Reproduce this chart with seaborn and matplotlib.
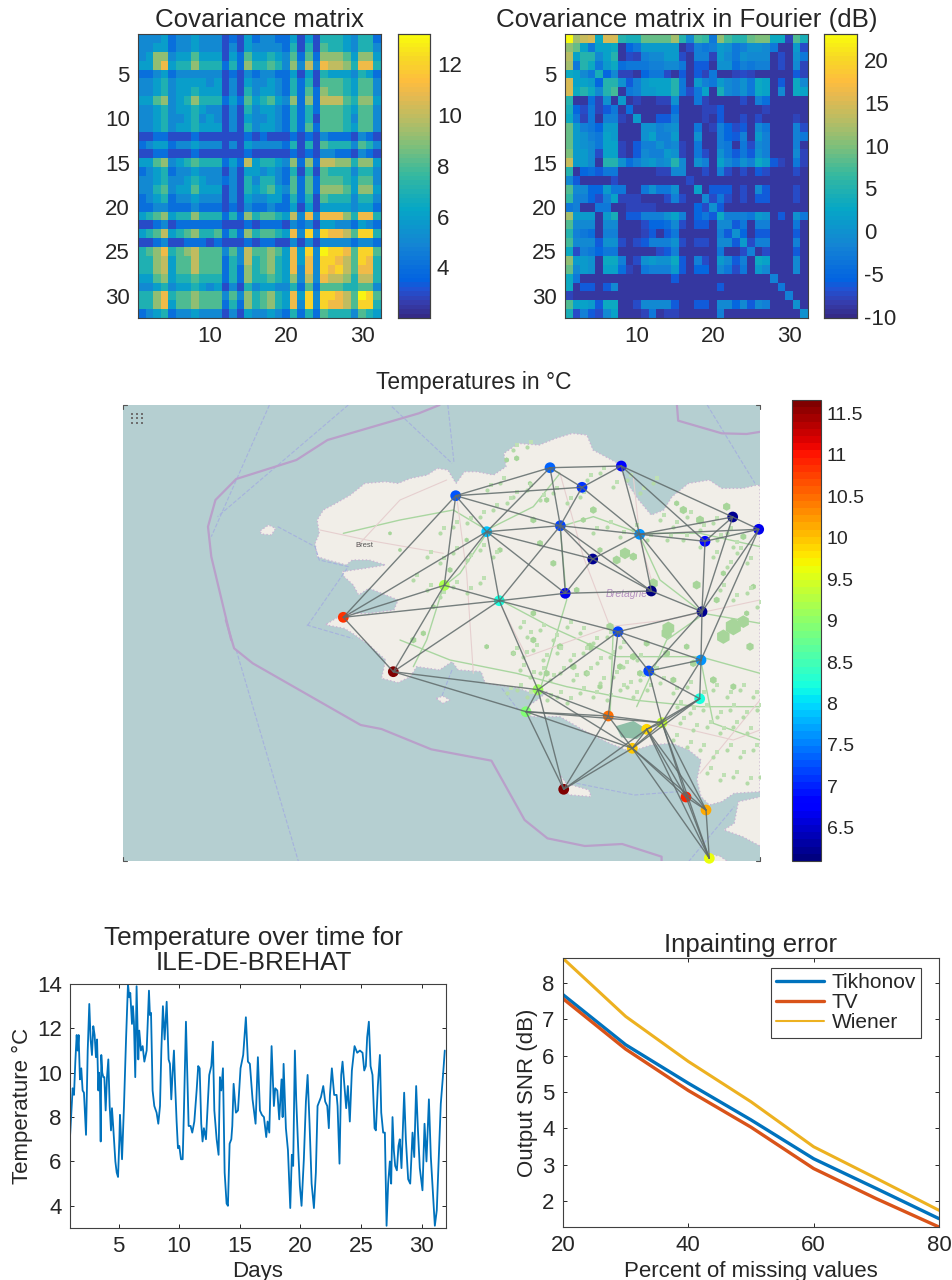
import numpy as np
import seaborn as sns
import matplotlib
matplotlib.use('Agg')
import matplotlib.pyplot as plt
from matplotlib.colors import LinearSegmentedColormap, Normalize
from matplotlib.cm import ScalarMappable

sns.set_theme(style='ticks')
plt.rcParams['font.family'] = ['Liberation Sans', 'DejaVu Sans']
plt.rcParams['axes.unicode_minus'] = False
plt.rcParams['axes.edgecolor'] = '#404040'
plt.rcParams['axes.linewidth'] = 0.8
plt.rcParams['text.color'] = '#262626'
plt.rcParams['xtick.color'] = '#262626'
plt.rcParams['ytick.color'] = '#262626'

W, H = 953, 1280

# covariance between the 32 stations
cov = [
    [5,5,5,6,4,5,5,6,5,5,5,3,4,3,6,4,5,5,4,4,6,3,6,3,7,7,7,6,5,7,7,4],
    [5,5,6,6,4,5,5,6,5,5,5,3,5,3,6,5,5,5,5,4,7,3,7,3,8,7,7,6,5,7,7,5],
    [5,6,9,9,5,6,6,8,6,6,6,3,6,4,8,6,6,7,6,5,8,4,8,4,9,9,9,8,6,9,9,6],
    [6,6,9,11,6,7,7,9,7,7,7,4,7,4,9,7,7,8,7,5,9,5,10,5,11,10,10,9,7,11,11,7],
    [4,4,5,6,4,5,5,5,5,5,5,3,4,3,5,4,5,5,4,4,6,3,6,3,7,6,6,6,5,7,6,4],
    [5,5,6,7,5,6,6,6,6,5,6,3,5,3,6,5,5,6,5,4,7,4,7,3,8,8,8,7,6,8,8,5],
    [5,5,6,7,5,6,6,7,6,6,6,3,5,3,7,5,6,6,5,4,7,4,8,4,9,8,8,7,6,8,8,5],
    [6,6,8,9,5,6,7,9,7,7,7,4,6,4,8,6,7,8,6,5,9,4,9,4,10,10,10,8,7,9,9,6],
    [5,5,6,7,5,6,6,7,6,5,5,3,5,3,7,5,6,6,5,4,7,4,7,4,8,8,8,7,6,8,8,5],
    [5,5,6,7,5,5,6,7,5,6,5,3,5,3,6,5,5,6,5,4,7,4,7,3,8,8,8,7,5,8,8,5],
    [5,5,6,7,5,6,6,7,6,6,6,3,5,3,7,5,6,6,5,4,7,4,8,4,8,8,8,7,6,8,8,5],
    [3,3,4,4,3,3,3,4,3,3,3,3,3,3,4,3,4,3,3,3,4,3,4,3,5,4,4,4,3,5,4,3],
    [4,5,6,6,4,5,5,6,5,5,5,3,5,3,6,5,5,5,5,4,7,3,7,3,8,7,7,7,5,8,7,5],
    [3,3,4,4,3,3,3,4,3,3,3,3,3,3,4,3,3,3,3,3,4,3,4,3,5,5,4,4,3,5,4,3],
    [6,6,8,9,5,6,7,8,7,7,7,4,6,4,10,6,7,7,6,5,9,4,9,4,10,10,9,9,7,9,9,6],
    [4,5,6,7,4,5,5,6,5,5,5,3,5,3,6,6,5,6,5,4,7,3,7,3,8,7,7,7,5,7,7,5],
    [5,5,6,7,5,5,6,7,6,5,5,4,5,3,7,5,7,7,5,4,8,4,8,4,8,8,8,7,6,8,8,5],
    [5,5,7,8,5,6,6,8,6,6,6,3,5,3,7,6,7,8,6,5,8,4,8,4,9,9,9,8,6,9,9,6],
    [4,5,6,7,4,5,5,6,5,5,5,3,5,3,6,5,5,6,6,4,7,4,7,3,8,7,7,7,5,7,7,5],
    [4,4,5,5,4,4,4,5,4,4,4,3,4,3,5,4,4,5,4,4,6,3,6,3,6,6,6,6,5,6,6,4],
    [6,7,8,9,6,7,7,9,7,7,7,4,7,4,9,7,8,8,7,6,10,5,11,5,11,11,11,9,7,11,11,7],
    [3,3,4,5,3,4,4,4,4,4,4,3,3,3,4,3,4,4,4,3,5,4,5,3,6,6,5,5,4,6,5,4],
    [6,7,8,10,6,7,8,9,7,7,8,4,7,4,9,7,8,8,7,6,11,5,12,5,12,11,11,10,8,12,12,7],
    [3,3,4,5,3,3,4,4,4,3,4,3,3,3,4,3,4,4,3,3,5,3,5,3,5,5,5,5,4,5,5,4],
    [7,8,9,11,7,8,9,10,8,8,8,5,8,5,10,8,8,9,8,6,11,6,12,5,13,12,12,11,8,12,12,8],
    [7,7,9,10,6,8,8,10,8,8,8,4,7,5,10,7,8,9,7,6,11,6,11,5,12,12,11,10,8,12,11,7],
    [7,7,9,10,6,8,8,10,8,8,8,4,7,4,9,7,8,9,7,6,11,5,11,5,12,11,12,10,8,11,11,7],
    [6,6,8,9,6,7,7,8,7,7,7,4,7,4,9,7,7,8,7,6,9,5,10,5,11,10,10,9,7,10,10,7],
    [5,5,6,7,5,6,6,7,6,5,6,3,5,3,7,5,6,6,5,5,7,4,8,4,8,8,8,7,7,8,8,5],
    [7,7,9,11,7,8,8,9,8,8,8,5,8,5,9,7,8,9,7,6,11,6,12,5,12,12,11,10,8,13,12,8],
    [7,7,9,11,6,8,8,9,8,8,8,4,7,4,9,7,8,9,7,6,11,5,12,5,12,11,11,10,8,12,12,7],
    [4,5,6,7,4,5,5,6,5,5,5,3,5,3,6,5,5,6,5,4,7,4,7,4,8,7,7,7,5,8,7,6],
]

# the same matrix in the graph Fourier basis, dB
cov_fourier = [
    [23,12,14,15,3,15,15,5,4,4,9,9,9,9,12,5,-1,7,6,-3,11,7,5,5,9,10,10,3,3,-8,8,4],
    [11,9,2,-3,2,2,3,-9,-5,-3,1,1,1,1,1,-9,-7,-2,-3,-2,1,0,-3,-2,0,0,-1,-3,-9,-9,1,-7],
    [13,2,5,5,-1,2,5,-9,-7,-8,-2,-1,-1,1,1,-7,-9,-2,-2,-8,1,-1,-3,0,-1,-1,-1,-9,-7,-9,0,-3],
    [12,-3,5,3,-3,1,3,-4,-3,-3,-3,-2,-2,-1,-1,-3,-9,-6,-6,-9,0,0,-4,-2,-3,-2,-2,-9,-7,-9,-1,-8],
    [3,2,-1,-3,4,-5,-1,-8,-8,-9,-5,-3,-3,-7,-9,-6,-9,-6,-8,-3,-9,-9,-8,-7,-8,-9,-9,-9,-9,-9,-6,-8],
    [15,2,2,1,-5,5,5,0,-6,-2,1,2,2,2,5,-3,-9,1,-2,-3,1,-1,-2,0,-3,3,2,-9,-6,-9,3,-1],
    [15,3,5,3,-1,5,7,-9,-3,-2,1,1,2,2,5,-3,-7,-3,2,-9,4,-1,-2,0,-3,3,2,-9,-1,-9,3,2],
    [5,-9,-9,-4,-8,0,-9,1,-9,-8,-9,-9,-8,-8,0,-9,-9,-3,-8,-9,-9,-9,-9,-7,-9,-2,-4,-9,-9,-9,-9,-9],
    [4,-5,-7,-3,-8,-6,-3,-9,-4,-9,-9,-9,-9,-9,-4,-9,-9,-9,-8,-8,-6,-9,-9,-9,-9,-9,-8,-9,-9,-9,-9,-9],
    [3,-3,-8,-3,-9,-2,-2,-8,-9,1,-9,-9,-6,-6,-2,-9,-9,-9,-8,-9,-6,-9,-9,-7,-9,-7,-9,-9,-9,-9,-8,-9],
    [9,1,-2,-3,-5,1,1,-9,-9,-9,0,0,-2,-1,0,-9,-9,-3,-9,-8,-2,-5,-7,-6,-9,-1,-3,-9,-9,-9,-2,-7],
    [9,1,0,-2,-3,2,1,-9,-9,-9,0,2,-2,-2,1,-9,-9,0,-9,-9,-2,-5,-6,-2,-9,1,-2,-9,-9,-9,-2,-3],
    [9,1,0,-1,-3,2,2,-8,-9,-6,-2,-2,0,-2,-1,-8,-9,-3,-9,-9,-2,-3,-9,-3,-7,-1,-2,-9,-9,-9,-2,-9],
    [10,1,1,-1,-7,2,2,-8,-9,-6,-1,-2,-2,1,0,-8,-9,-3,-7,-9,0,-3,-6,-3,-6,0,-2,-9,-9,-9,-1,-8],
    [14,1,1,-1,-9,5,5,0,-4,-2,0,1,-1,0,5,-1,-9,0,-2,-9,2,-1,-3,0,-2,3,1,-6,-8,-9,-3,-8],
    [5,-9,-5,-4,-6,-3,-3,-9,-9,-9,-9,-9,-8,-8,-1,-1,-9,-9,-7,-9,-2,-7,-9,-7,-9,-6,-7,-9,-9,-9,-7,-9],
    [-1,-6,-9,-9,-9,-9,-7,-9,-9,-9,-9,-9,-9,-9,-9,-9,-7,-9,-9,-9,-9,-9,-9,-9,-9,-9,-9,-9,-9,-9,-9,-9],
    [8,-1,-1,-5,-5,1,-3,-3,-9,-9,-3,0,-3,-3,0,-9,-9,2,-9,-6,-6,-6,-9,-7,-9,-1,-6,-9,-9,-9,-7,-9],
    [6,-2,-2,-5,-7,-2,2,-8,-8,-8,-9,-9,-9,-7,-2,-7,-9,-9,-1,-7,-3,-7,-9,-7,-9,-6,-6,-9,-9,-9,-7,-9],
    [-3,-2,-9,-9,-3,-3,-9,-9,-8,-8,-8,-8,-9,-9,-9,-9,-9,-5,-7,0,-6,-9,-9,-9,-9,-9,-9,-9,-9,-9,-9,-9],
    [12,1,1,1,-9,1,4,-9,-6,-6,-2,-2,-2,0,2,-2,-9,-5,-3,-6,3,-2,-2,-2,-3,1,0,-9,-6,-9,0,-3],
    [8,-1,-1,-1,-9,-1,-1,-9,-9,-9,-7,-5,-5,-4,-1,-7,-9,-6,-6,-9,-1,-1,-6,-3,-9,-2,-2,-9,-9,-9,-3,-9],
    [5,-2,-3,-4,-9,-2,-2,-9,-9,-9,-8,-6,-9,-6,-3,-9,-9,-9,-9,-9,-2,-6,0,-5,-9,-6,-6,-9,-9,-9,-6,-9],
    [7,-1,-1,-1,-6,0,0,-7,-9,-7,-6,-2,-2,-2,0,-7,-9,-7,-7,-9,-1,-1,-6,1,-7,-2,-2,-9,-9,-9,-2,-9],
    [3,-7,-2,-3,-5,-3,-3,-9,-9,-9,-9,-9,-7,-6,-2,-9,-9,-9,-9,-9,-3,-9,-9,-7,-2,-9,-7,-9,-9,-9,-6,-9],
    [11,1,1,0,-9,3,3,-2,-9,-7,0,1,0,0,3,-6,-9,-2,-7,-9,1,-1,-6,-2,-9,3,2,-9,-9,-9,-1,-9],
    [9,-1,1,0,-9,2,2,-4,-8,-9,-3,-2,-2,-2,1,-6,-9,-5,-5,-9,-1,-3,-7,-3,-9,1,-1,-9,-9,-9,-1,-9],
    [3,-3,-9,-9,-9,-9,-9,-9,-9,-9,-9,-9,-9,-9,-6,-9,-9,-9,-9,-9,-9,-9,-9,-9,-9,-9,-9,-2,-9,-9,-9,-9],
    [3,-9,-6,-6,-9,-6,-1,-9,-9,-9,-9,-9,-9,-9,-9,-9,-9,-9,-9,-9,-6,-9,-9,-9,-9,-9,-9,-9,-3,-9,-9,-9],
    [-8,-9,-9,-9,-9,-9,-9,-9,-9,-9,-9,-9,-9,-9,-9,-9,-9,-9,-9,-9,-9,-9,-9,-9,-9,-9,-9,-9,-9,-2,-9,-9],
    [8,2,2,1,-6,3,3,-9,-9,-7,-1,-1,-1,-1,-6,-9,-9,-6,-6,-9,-1,-1,-5,-1,-6,-1,-2,-9,-9,-9,0,-9],
    [4,-7,-2,-6,-7,-1,2,-9,-9,-9,-8,-3,-9,-8,-8,-9,-9,-9,-9,-9,-2,-9,-9,-9,-9,-9,-9,-9,-9,-9,-9,0],
]

# stations: position on the map picture, mean temperature
station_x = [455.7,550,621.3,582,486.7,560.3,639.7,592.7,732.7,758.7,705,444.3,499.3,565.3,651.3,702,
             343.3,618,701,648.7,393.3,538,699.7,526,608.3,662,646.7,632.3,563.7,686,706,709.3]
station_y = [495.7,467.7,466,487.3,531.7,525.7,534.3,559,517,529.3,541.3,585.3,600.7,593.3,591,611.7,
             617.3,631.7,660,671,671.7,689.7,698.7,711.7,716,722.7,729.3,748.3,789.3,797,810,858.3]
station_temp = [7.3,7.4,6.8,7.1,7.9,7.2,7.6,6.2,6.2,6.7,6.8,9.2,8.2,6.7,6.1,6.2,
                10.8,7.2,7.6,7.2,11.6,9.1,8.2,8.9,10.5,9.4,9.9,10.0,11.6,10.9,10.1,9.6]
edges = [(0,1),(0,3),(0,4),(0,5),(0,11),(0,16),(1,2),(1,3),(1,4),(1,5),(2,3),(2,6),(2,8),(2,10),
         (3,5),(3,6),(4,5),(4,7),(4,11),(4,12),(4,13),(4,16),(5,6),(5,7),(5,12),(5,13),(5,14),
         (6,7),(6,8),(6,9),(6,10),(6,14),(6,15),(7,13),(7,14),(8,9),(8,10),(8,15),(9,10),(9,15),(9,18),
         (10,15),(11,12),(11,16),(11,20),(12,13),(12,16),(12,17),(12,20),(12,21),(13,14),(14,15),
         (15,17),(15,18),(15,19),(16,20),(17,18),(17,19),(17,21),(17,24),(18,19),(18,22),(18,25),
         (19,22),(19,25),(20,21),(20,23),(21,23),(21,24),(21,27),(21,28),(22,25),(22,26),(22,27),
         (23,24),(23,25),(23,27),(23,28),(24,25),(24,27),(24,28),(25,26),(25,27),(25,29),(25,30),(25,31),
         (26,27),(26,28),(26,29),(26,30),(26,31),(27,28),(27,29),(27,30),(27,31),(29,30),(29,31),(30,31)]

# background map, traced by hand off the crops
north_coast = [(498,672),(520,655),(545,640),(600,640),(660,630),(670,600),(640,585),(600,565),(575,585),
               (562,555),(540,530),(535,515),(590,505),(640,495),(600,480),(560,480),(545,495),(500,480),
               (475,470),(470,430),(480,400),(475,360),(490,330),(520,310),(555,285),(590,250),(640,245),
               (670,250),(700,235),(740,225),(765,205),(790,210),(810,250),(830,215),(860,215),(900,225),
               (930,200),(925,160),(960,130),(1010,135),(1050,115),(1090,100),(1125,105),(1140,150),
               (1170,170),(1200,190),(1220,245),(1250,300),(1280,345),(1310,330),(1330,290),(1370,250),
               (1420,240),(1450,265),(1500,265),(1535,255),(1545,258)]
south_coast = [(497,15),(540,25),(560,40),(600,75),(640,120),(630,175),(670,188),(700,170),(715,140),
               (770,150),(800,125),(815,150),(870,155),(880,190),(960,205),(1005,225),(1030,215),(1005,240),
               (975,265),(970,285),(1000,290),(1060,290),(1130,340),(1180,370),(1230,395),(1280,375),
               (1330,370),(1370,390),(1400,420),(1390,480),(1400,530),(1420,555),(1450,545),(1480,520),(1545,515)]
south_land = [(1545,530),(1490,545),(1480,610),(1455,630),(1500,650),(1545,680)]
belle_ile = [(1062,468),(1075,490),(1130,510),(1135,530),(1085,525),(1060,510)]
noirmoutier = [(1412,725),(1420,703),(1445,708),(1465,725)]
groix = [(762,235),(778,228),(795,240),(778,250)]
ouessant = [(338,392),(358,375),(375,385),(365,405),(340,402)]
border_1 = [(770,15),(720,40),(500,120),(425,180),(280,237),(230,300),(212,380),(220,470),(268,720)]
border_2 = [(255,0),(275,85),(320,130),(580,315),(630,327),(750,388),(895,422),(975,600),(1030,655),
            (1120,678),(1210,672),(1305,710),(1305,725)]
border_3 = [(1342,15),(1345,62),(1450,100),(1510,102),(1545,95)]
dash_top = [[(360,15),(220,410)],[(550,15),(235,350)],[(655,20),(800,190)],[(790,15),(805,190)],
            [(380,380),(470,440),(480,480),(550,500),(450,680)],[(1415,15),(1530,250)]]
dash_bottom = [[(280,90),(430,725)],[(1100,490),(1240,525),(1345,515)],[(1370,725),(1480,560)],
               [(800,150),(775,230)],[(920,205),(960,270)],[(450,15),(560,55)]]
forest_x = [1105,1100,1300,1270,1330,1200,1150,975,950,1190,1060,650,700,880,850,740,620,760,830,900,
            1000,1280,1330,1130,690,720,600,500,450,400,370,340,300,270,640,700,560,860,780,930,1040,
            1160,1240,1300,1350,1120,1180,1250,1340,1270,1360,870,960,820,740,1100,1000,900,1020,700]
forest_y = [565,580,560,590,545,240,210,340,360,435,430,55,240,210,240,180,60,370,450,330,
            350,200,290,190,130,310,330,300,390,500,580,600,330,280,640,600,620,700,620,560,610,
            620,720,740,620,720,670,480,520,400,440,620,680,680,700,640,650,740,700,520]
forest_s = [160,120,260,180,140,70,60,120,70,70,90,30,40,50,30,30,25,40,35,30,
            60,60,40,30,20,40,30,20,30,25,30,40,15,15,30,40,25,40,45,60,40,
            35,50,40,60,40,50,40,30,30,30,60,40,45,40,50,50,30,40,35]
speck_x = [660,680,720,760,800,840,880,920,960,640,670,700,730,770,810,850,890,930,970,1010,
           660,690,720,750,780,820,860,900,940,980,1020,1060,620,650,680,710,740,770,800,840,
           880,920,960,1000,1040,1080,1120,1160,1200,1240,1280,1320,1360,1130,1170,1210,1250,1290,1330,1370,
           1140,1180,1220,1260,1300,1340,1120,1160,1200,1240,1280,1320,1360,1220,1260,1300,1340,1380,420,460,
           500,540,580,620,380,420,460,500,540,580,340,380,420,460,500,540,860,900,940,980,
           1020,1060,1100,1150,1200,1250,1300,560,600,640,680,720,760,800,840,880,920,960,1000,1040,
           640,680,1080,1120,1160,1200,1240,1280,1240,1280,1310,1340,1260,1300,1340,1370]
speck_y = [560,590,570,600,560,580,610,590,620,640,650,630,660,640,660,640,670,650,680,660,
           690,710,700,720,700,720,700,730,710,740,720,700,760,750,770,760,780,770,790,760,
           770,780,750,770,750,730,760,740,770,750,770,750,770,800,820,810,830,810,830,810,
           850,870,860,880,860,880,900,920,930,950,930,950,930,1000,1020,1010,1030,1010,280,260,
           250,230,210,190,350,370,340,360,330,350,420,450,470,440,460,430,120,100,140,120,
           160,130,300,300,320,300,320,150,130,170,150,180,160,190,170,280,260,290,270,300,
           30,20,240,260,230,270,250,280,350,380,340,370,450,480,460,500]
green_roads = [[(130,280),(300,240),(460,210),(560,270)],[(560,270),(700,200),(780,100),(750,85)],
               [(780,260),(880,230),(1020,280),(1200,280),(1380,320)],[(1020,290),(1080,420),(1210,520),(1380,550)],
               [(300,600),(450,660),(650,700),(800,740),(1000,780),(1200,800),(1380,800)],
               [(600,480),(750,560),(950,650),(1200,650),(1380,700)],[(430,440),(380,600),(340,680)],
               [(940,560),(930,830)],[(1200,650),(1240,850),(1380,900)],[(560,280),(480,400),(430,440)],
               [(780,260),(800,480),(720,750)],[(1200,530),(1100,600),(1010,800)]]
pink_roads = [[(170,320),(300,180),(440,120)],[(470,170),(500,400),(520,700)],[(780,100),(850,350),(930,560)],
              [(930,560),(1100,540),(1380,480)],[(1000,110),(1020,300),(1060,440)],[(1380,780),(1200,1000)],
              [(60,270),(200,300),(430,340)],[(1090,850),(1300,900),(1380,870)],[(600,490),(680,650),(930,560)]]

# temperature at ILE-DE-BREHAT
days = [1.00,1.14,1.22,1.33,1.44,1.55,1.63,1.71,1.82,1.93,2.04,2.15,2.32,2.46,2.59,2.70,2.81,2.92,3.03,3.14,
        3.23,3.34,3.39,3.47,3.53,3.58,3.66,3.75,3.83,3.94,4.05,4.16,4.27,4.38,4.46,4.57,4.74,4.85,4.96,5.07,
        5.12,5.29,5.45,5.62,5.78,5.89,5.97,6.11,6.19,6.27,6.38,6.49,6.63,6.71,6.85,6.99,7.13,7.32,7.51,7.59,
        7.68,7.81,7.95,8.14,8.28,8.42,8.53,8.66,8.80,8.97,9.13,9.24,9.35,9.46,9.57,9.65,9.79,9.90,10.01,10.15,
        10.29,10.39,10.56,10.67,10.78,10.94,11.08,11.25,11.44,11.57,11.69,11.82,11.93,12.04,12.21,12.32,12.48,12.65,12.78,12.90,
        13.09,13.25,13.36,13.47,13.61,13.75,13.91,14.02,14.16,14.30,14.38,14.49,14.68,14.85,15.06,15.28,15.50,15.67,15.83,16.05,
        16.30,16.49,16.66,16.82,16.99,17.18,17.29,17.43,17.62,17.81,17.92,18.09,18.25,18.44,18.53,18.61,18.80,18.97,19.16,19.29,
        19.40,19.54,19.65,19.82,19.95,20.09,20.28,20.45,20.59,20.75,20.92,21.11,21.27,21.41,21.55,21.69,21.88,22.04,22.21,22.34,
        22.43,22.59,22.78,22.98,23.06,23.22,23.36,23.47,23.61,23.77,23.91,24.07,24.24,24.46,24.68,24.90,25.12,25.26,25.39,25.50,
        25.64,25.78,25.94,26.11,26.22,26.38,26.55,26.66,26.82,26.96,27.10,27.23,27.37,27.48,27.59,27.70,27.81,27.95,28.08,28.19,
        28.33,28.55,28.69,28.88,29.05,29.24,29.38,29.54,29.68,29.84,30.06,30.23,30.39,30.59,30.75,30.92,31.08,31.24,31.41,31.57,31.77,31.90]
temps = [7.1,8.5,9.3,9,10.5,11.7,11,11.7,9.7,10.2,9.2,9.1,7.2,11,13.1,11.5,10.8,12.1,11.7,10.7,
         11.5,9.2,10,9.3,6.9,10.8,10,9.8,9.8,8.3,9.8,10.6,8.5,7.4,8.4,7.5,6,5.5,5.3,7,
         8.1,6.1,8.5,11.5,14,13.4,13.6,12.2,13,12.3,9.8,13.9,10.6,11.9,11,11.2,10.5,11,13.7,12.6,
         12.7,9.2,8.5,8.2,7.7,8.5,11,13,11.5,13.2,10.6,10.4,8.8,10,11,9.7,7.8,6.6,6.7,6.1,
         6.1,8.2,12.3,10,7.6,7.6,7.3,7.8,9.2,10.3,10.2,7.7,6.9,7.5,7,8.2,9.9,10.3,11.4,8.3,
         7,6.3,9.8,9.2,10.2,5.5,4.1,4,6.8,7,7.6,9.5,8.2,8.3,10.2,10.8,12.5,10.5,10.4,8.8,
         7.7,10.7,8.3,8.1,8,7.1,7.8,7.3,11.2,8.5,9.3,9.2,7.9,9.7,8,10.4,7.5,6.5,3.9,6.3,
         5.8,11,8.8,6.5,4.9,4,6.1,8.7,9.9,7.7,5,3.9,5.5,8.5,8.7,8.9,9.4,8.7,8.5,7.5,
         9,10.2,9,9,8.5,5.9,9.9,10.5,9.5,8.4,9.4,7.8,10.1,11.2,10.9,11,10.9,10.1,10.3,11.6,
         12.3,10.3,9.9,7.5,7.4,9.4,10.8,8.2,7.3,7.3,3.1,5,6,5,8,6.5,5.8,5.6,6.7,7,
         5.7,9.1,7,5.2,5,7.3,6.2,9.4,7.5,5.7,4.7,7.7,6,8.8,6.2,4.6,3.1,3.8,6.3,8.6,10,11]

# inpainting results
missing = [20,30,40,50,60,70,80]
snr_tikhonov = [7.68,6.30,5.24,4.23,3.16,2.34,1.51]
snr_tv = [7.57,6.18,5.04,4.03,2.89,2.06,1.28]
snr_wiener = [8.68,7.08,5.84,4.73,3.49,2.62,1.74]

parula_nodes = [(0,(.2081,.1663,.5292)),(3/63,(.2081,.2386,.6771)),(6/63,(.1253,.3242,.8303)),(8/63,(.0117,.3875,.8820)),
                (16/63,(.0793,.5200,.8312)),(24/63,(.0228,.6535,.7768)),(32/63,(.2178,.7250,.6193)),(38/63,(.4871,.7491,.4840)),
                (44/63,(.7184,.7411,.3905)),(50/63,(.9139,.7258,.3063)),(53/63,(.9938,.7455,.2403)),(58/63,(.9697,.8481,.1475)),
                (1,(.9763,.9831,.0538))]
parula = LinearSegmentedColormap.from_list('parula', parula_nodes, N=64)
jet = plt.get_cmap('jet', 64)


def place(x0, y0, x1, y1):
    return fig.add_axes([x0/W, 1-y1/H, (x1-x0)/W, (y1-y0)/H])


def crop(points, top):
    # crop units -> picture pixels
    pts = np.array(points, dtype=float)
    return 120 + pts[:, 0]*0.415, top + pts[:, 1]/3


def crop3(points):
    pts = np.array(points, dtype=float)
    return 300 + pts[:, 0]/3, 440 + pts[:, 1]/3


def matlab_box(ax):
    ax.tick_params(direction='in', length=3, width=0.7, top=True, right=True, labelsize=16)
    ax.tick_params(axis='x', pad=6)
    ax.tick_params(axis='y', pad=6)
    for s in ax.spines.values():
        s.set_visible(True)
        s.set_color('#404040')
        s.set_linewidth(0.8)


def matrix_panel(values, box, cbar_box, vmin, vmax, cbar_ticks, title):
    ax = place(*box)
    cax = place(*cbar_box)
    sns.heatmap(np.array(values), ax=ax, cbar_ax=cax, cmap=parula, vmin=vmin, vmax=vmax, xticklabels=False, yticklabels=False)
    ax.set_xticks(np.array([10, 20, 30]) - 0.5, ['10', '20', '30'])
    ax.set_yticks(np.array([5, 10, 15, 20, 25, 30]) - 0.5, ['5', '10', '15', '20', '25', '30'], rotation=0)
    matlab_box(ax)
    ax.set_title(title, fontsize=18.6, pad=5)
    cax.set_yticks(cbar_ticks)
    cax.tick_params(direction='in', length=4, width=0.7, labelsize=16, right=True, pad=5)
    for s in cax.spines.values():
        s.set_visible(True)
        s.set_color('#404040')
        s.set_linewidth(0.8)


fig = plt.figure(figsize=(W/100, H/100), dpi=100)

matrix_panel(cov, (138, 34, 381, 318), (398, 34, 430, 318), 2.0, 13.2, [4, 6, 8, 10, 12], 'Covariance matrix')
matrix_panel(cov_fourier, (565, 34, 808, 318), (824, 34, 857, 318), -10.1, 23, [-10, -5, 0, 5, 10, 15, 20],
             'Covariance matrix in Fourier (dB)')

# map
ax = place(123, 405, 760, 861)
ax.set_xlim(123, 760)
ax.set_ylim(861, 405)
ax.axis('off')
ax.add_patch(plt.Rectangle((123, 405), 637, 456, color='#B5CFD1', zorder=0))
nx, ny = crop(north_coast, 400)
sx, sy = crop(south_coast, 620)
land_x = np.r_[nx, [760, 760], sx[::-1]]
land_y = np.r_[ny, [486, 792], sy[::-1]]
coast = dict(facecolor='#F1EEE8', edgecolor='#C9B5D3', linewidth=1.0, linestyle=':', zorder=1)
ax.fill(land_x, land_y, **coast)
for shape, top in [(south_land, 620), (belle_ile, 620), (noirmoutier, 620), (groix, 620), (ouessant, 400)]:
    ax.fill(*crop(shape, top), **coast)
for line in green_roads:
    ax.plot(*crop3(line), color='#A9D6A0', lw=1.0, zorder=2)
for line in pink_roads:
    ax.plot(*crop3(line), color='#E6CFCF', lw=0.8, zorder=2)
fx, fy = crop3(list(zip(forest_x, forest_y)))
ax.scatter(fx, fy, s=np.array(forest_s)*0.6, color='#A7D59A', marker='h', linewidths=0, zorder=2)
sx2, sy2 = crop3(list(zip(speck_x, speck_y)))
ax.scatter(sx2, sy2, s=9, color='#B4DBA8', marker='o', linewidths=0, zorder=2)
ax.scatter(sx2 + 4, sy2 - 5, s=7, color='#BFE0B4', marker='s', linewidths=0, zorder=2)
ax.fill(*crop3([(950,860),(1000,845),(1040,870),(1010,895),(965,890)]), color='#8FBFA8', zorder=2)
ax.plot(*crop(border_1, 400), color='#B9A0CA', lw=1.6, zorder=1.5)
ax.plot(*crop(border_2, 620), color='#B9A0CA', lw=1.6, zorder=1.5)
ax.plot(*crop(border_3, 400), color='#B9A0CA', lw=1.6, zorder=1.5)
for line in dash_top:
    ax.plot(*crop(line, 400), color='#A6B2DD', lw=0.8, ls='--', zorder=1.2)
for line in dash_bottom:
    ax.plot(*crop(line, 620), color='#A6B2DD', lw=0.8, ls='--', zorder=1.2)
ax.text(364, 546, 'Brest', fontsize=5.5, color='#555555', ha='center', va='center', zorder=3)
ax.text(627, 594, 'Bretagne', fontsize=7.5, style='italic', color='#B490C0', ha='center', va='center', zorder=3)
ax.scatter(np.repeat([132, 137, 142], 3), np.tile([414, 418.5, 423], 3), s=4, marker='s', color='#6E6E6E', linewidths=0, zorder=3)
for cx, cy, dx, dy in [(123, 405, 4, 4), (760, 405, -4, 4), (123, 861, 4, -4), (760, 861, -4, -4)]:
    ax.plot([cx, cx, cx+dx], [cy+dy, cy, cy], color='#555555', lw=0.8, zorder=3, clip_on=False)

sns.scatterplot(x=station_x, y=station_y, hue=station_temp, palette=jet, hue_norm=(6.1, 11.66), s=60,
                linewidth=0, legend=False, ax=ax, zorder=4, clip_on=False)
for a, b in edges:
    ax.plot([station_x[a], station_x[b]], [station_y[a], station_y[b]], color='#5F6A6A', lw=1.0, alpha=0.85, zorder=5, clip_on=False)
fig.text(474/W, 1-382/H, 'Temperatures in °C', fontsize=16.4, ha='center', va='center')

cax = place(792, 400, 821, 861)
cb = fig.colorbar(ScalarMappable(norm=Normalize(6.1, 11.66), cmap=jet), cax=cax)
cb.set_ticks([6.5, 7, 7.5, 8, 8.5, 9, 9.5, 10, 10.5, 11, 11.5], labels=['6.5', '7', '7.5', '8', '8.5', '9', '9.5', '10', '10.5', '11', '11.5'])
cax.tick_params(direction='in', length=4, width=0.7, labelsize=14, pad=4)
cb.outline.set_edgecolor('#404040')

# time series
ax = place(70, 984, 446, 1228)
sns.lineplot(x=days, y=temps, color='#0072BD', lw=1.3, estimator=None, ax=ax)
ax.set_xlim(1, 32)
ax.set_ylim(3, 14)
ax.set_xticks([5, 10, 15, 20, 25, 30])
ax.set_yticks([4, 6, 8, 10, 12, 14])
matlab_box(ax)
ax.set_xlabel('Days', fontsize=16, labelpad=3)
ax.set_ylabel('Temperature °C', fontsize=16, labelpad=3)
ax.set_title('Temperature over time for\nILE-DE-BREHAT', fontsize=18.8, pad=10, linespacing=1.05, x=0.488)

# inpainting error
ax = place(563, 958, 939, 1227)
sns.lineplot(x=missing, y=snr_tikhonov, color='#0072BD', lw=2.4, label='Tikhonov', ax=ax)
sns.lineplot(x=missing, y=snr_tv, color='#D95319', lw=2.4, label='TV', ax=ax)
sns.lineplot(x=missing, y=snr_wiener, color='#EDB120', lw=2.2, label='Wiener', ax=ax)
ax.set_xlim(20, 80)
ax.set_ylim(1.28, 8.69)
ax.set_xticks([20, 40, 60, 80])
ax.set_yticks([2, 3, 4, 5, 6, 7, 8])
matlab_box(ax)
ax.set_xlabel('Percent of missing values', fontsize=16, labelpad=3)
ax.set_ylabel('Output SNR (dB)', fontsize=16, labelpad=3)
ax.set_title('Inpainting error', fontsize=18.5, pad=4)
leg = ax.legend(loc='upper right', bbox_to_anchor=((921-563)/376, 1-(968-958)/269),
                borderaxespad=0, fontsize=15, fancybox=False, framealpha=1, edgecolor='#404040',
                labelspacing=0.05, handlelength=2.3, handletextpad=0.35, borderpad=0.25)
leg.get_frame().set_linewidth(0.8)
leg.get_lines()[2].set_linewidth(1.5)

fig.savefig('out.png', dpi=100)
